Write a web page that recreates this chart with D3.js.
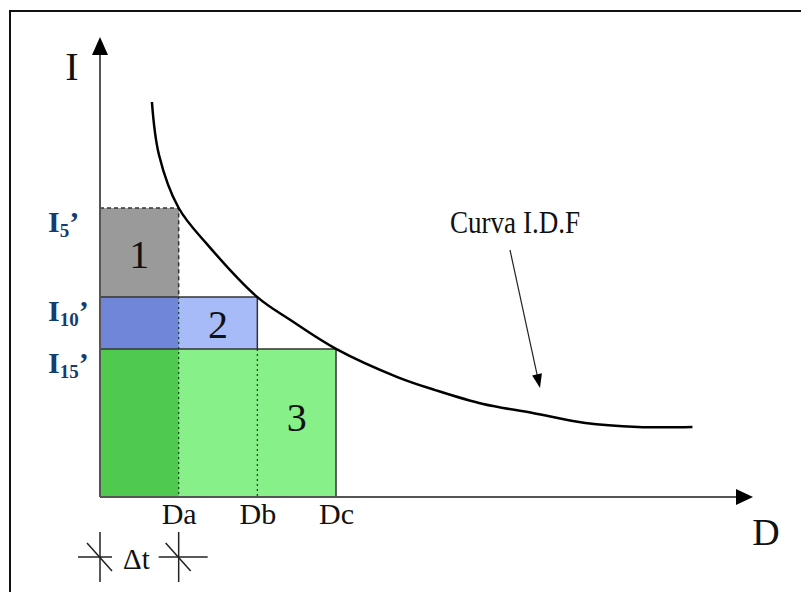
<!DOCTYPE html>
<html>
<head>
<meta charset="utf-8">
<script src="https://cdn.jsdelivr.net/npm/d3@7"></script>
<style>
  html, body { margin: 0; padding: 0; background: #fff; }
  svg { display: block; }
</style>
</head>
<body>
<div id="chart"></div>
<script>
// durations (in units of delta t) and their labels
const durationLabels = ["Da", "Db", "Dc"];
const durationValues = [1, 2, 3];

// intensities read at each duration (I5', I10', I15')
const intensityLabels = ["5", "10", "15"];
const intensityValues = [120, 83, 61.5];

// I.D.F curve points
const curveD = [0.66, 0.75, 1.0, 1.36, 2.0, 2.42, 3.0, 3.78, 4.26, 4.87, 5.5, 6.17, 6.84, 7.53];
const curveI = [164, 142, 120, 105, 83, 73.5, 61.5, 49.8, 44.4, 38.6, 34.9, 30.7, 29.1, 29.1];

const blockNumbers = ["1", "2", "3"];
const fillLight = ["#9a9a9a", "#a6bbf7", "#88f088"];
const fillDark = ["#9a9a9a", "#6f86d9", "#4fca4f"];

const W = 801, H = 592;
const serif = "'Liberation Serif', 'Times New Roman', serif";

const svg = d3.select("#chart").append("svg")
    .attr("width", W)
    .attr("height", H);

// frame (runs off the right and bottom edges)
svg.append("rect")
    .attr("x", 10).attr("y", 11)
    .attr("width", 900).attr("height", 700)
    .attr("fill", "#fff")
    .attr("stroke", "#111")
    .attr("stroke-width", 2);

const x = d3.scaleLinear().domain([0, 8.3]).range([100, 753]);
const y = d3.scaleLinear().domain([0, 191]).range([497, 37]);

// blocks, drawn largest intensity first so later ones cover the bottom
durationValues.forEach((dv, i) => {
    const g = svg.append("g");
    // light part
    g.append("rect")
        .attr("x", x(0))
        .attr("y", y(intensityValues[i]))
        .attr("width", x(dv) - x(0))
        .attr("height", y(0) - y(intensityValues[i]))
        .attr("fill", fillLight[i]);
    // darker part over the first interval
    g.append("rect")
        .attr("x", x(0))
        .attr("y", y(intensityValues[i]))
        .attr("width", x(durationValues[0]) - x(0))
        .attr("height", y(0) - y(intensityValues[i]))
        .attr("fill", fillDark[i]);
});

// block outlines
svg.append("path")
    .attr("d", `M${x(0)},${y(intensityValues[0])}H${x(durationValues[0])}V${y(intensityValues[1])}`)
    .attr("fill", "none")
    .attr("stroke", "#333")
    .attr("stroke-width", 1.5)
    .attr("stroke-dasharray", "4,3");

[1, 2].forEach(i => {
    svg.append("path")
        .attr("d", `M${x(0)},${y(intensityValues[i])}H${x(durationValues[i])}V${i === 2 ? y(0) : y(intensityValues[i + 1])}`)
        .attr("fill", "none")
        .attr("stroke", "#333")
        .attr("stroke-width", 1.5);
});

// dotted dividers inside the blocks
[0, 1].forEach(i => {
    svg.append("line")
        .attr("x1", x(durationValues[i])).attr("x2", x(durationValues[i]))
        .attr("y1", y(intensityValues[i + 1])).attr("y2", y(0))
        .attr("stroke", "#1d3a1d")
        .attr("stroke-width", 1.2)
        .attr("stroke-dasharray", "2,3");
});

// block numbers
blockNumbers.forEach((n, i) => {
    const x0 = i === 0 ? 0 : durationValues[i - 1];
    const top = y(intensityValues[i]);
    const bottom = i === 2 ? y(0) : y(intensityValues[i + 1]);
    svg.append("text")
        .attr("x", (x(x0) + x(durationValues[i])) / 2)
        .attr("y", (top + bottom) / 2 + (i === 2 ? 8 : 15))
        .attr("text-anchor", "middle")
        .style("font-family", serif)
        .style("font-size", "40px")
        .attr("fill", "#111")
        .text(n);
});

// I.D.F curve
const line = d3.line()
    .x(d => x(d[0]))
    .y(d => y(d[1]))
    .curve(d3.curveCatmullRom.alpha(0.5));

svg.append("path")
    .datum(curveD.map((d, i) => [d, curveI[i]]))
    .attr("d", line)
    .attr("fill", "none")
    .attr("stroke", "#000")
    .attr("stroke-width", 2.5);

// axes
const axisColor = "#555";
svg.append("line")
    .attr("x1", x(0)).attr("x2", x(0))
    .attr("y1", y(0)).attr("y2", y.range()[1] + 16)
    .attr("stroke", axisColor).attr("stroke-width", 2);
svg.append("path")
    .attr("d", `M${x(0)},${y.range()[1]}L${x(0) - 8},${y.range()[1] + 18}L${x(0) + 8},${y.range()[1] + 18}Z`)
    .attr("fill", "#000");

svg.append("line")
    .attr("x1", x(0)).attr("x2", x.range()[1] - 16)
    .attr("y1", y(0)).attr("y2", y(0))
    .attr("stroke", axisColor).attr("stroke-width", 2);
svg.append("path")
    .attr("d", `M${x.range()[1]},${y(0)}L${x.range()[1] - 17},${y(0) - 8}L${x.range()[1] - 17},${y(0) + 8}Z`)
    .attr("fill", "#000");

// duration tick labels
const xAxis = svg.append("g")
    .attr("transform", `translate(0,${y(0)})`)
    .call(d3.axisBottom(x)
        .tickValues(durationValues)
        .tickSize(0)
        .tickPadding(4)
        .tickFormat((d, i) => durationLabels[i]));
xAxis.select(".domain").remove();
xAxis.selectAll("text")
    .style("font-family", serif)
    .style("font-size", "30px")
    .attr("fill", "#111")
    .attr("dy", "0.75em");

// intensity labels
intensityLabels.forEach((lab, i) => {
    const t = svg.append("text")
        .attr("x", 48)
        .attr("y", y(intensityValues[i]) + 24)
        .style("font-family", serif)
        .style("font-weight", "bold")
        .style("font-size", "30px")
        .attr("fill", "#153d6f");
    t.append("tspan").text("I");
    t.append("tspan").attr("dy", 5).style("font-size", "19px").text(lab);
    t.append("tspan").attr("dy", -5).style("font-size", "30px").text("\u2019");
});

// axis names
svg.append("text")
    .attr("x", 72).attr("y", 80)
    .attr("text-anchor", "middle")
    .style("font-family", serif)
    .style("font-size", "40px")
    .attr("fill", "#111")
    .text("I");

svg.append("text")
    .attr("x", 766).attr("y", 545)
    .attr("text-anchor", "middle")
    .style("font-family", serif)
    .style("font-size", "38px")
    .attr("fill", "#111")
    .text("D");

// curve annotation
svg.append("text")
    .attr("x", 450).attr("y", 233)
    .attr("textLength", 130)
    .attr("lengthAdjust", "spacingAndGlyphs")
    .style("font-family", serif)
    .style("font-size", "32px")
    .attr("fill", "#111")
    .text("Curva I.D.F");

const ax0 = [510, 250], ax1 = [540, 388];
const ang = Math.atan2(ax1[1] - ax0[1], ax1[0] - ax0[0]);
svg.append("line")
    .attr("x1", ax0[0]).attr("y1", ax0[1])
    .attr("x2", ax1[0] - 12 * Math.cos(ang)).attr("y2", ax1[1] - 12 * Math.sin(ang))
    .attr("stroke", "#222").attr("stroke-width", 1.2);
svg.append("path")
    .attr("d", `M${ax1[0]},${ax1[1]}` +
        `L${ax1[0] - 14 * Math.cos(ang) + 5 * Math.sin(ang)},${ax1[1] - 14 * Math.sin(ang) - 5 * Math.cos(ang)}` +
        `L${ax1[0] - 14 * Math.cos(ang) - 5 * Math.sin(ang)},${ax1[1] - 14 * Math.sin(ang) + 5 * Math.cos(ang)}Z`)
    .attr("fill", "#000");

// delta t markers below the axis
const crossSpans = [[-22, 12], [-20, 29]];
[0, durationValues[0]].forEach((dv, i) => {
    const cx = x(dv), cy = 557;
    const g = svg.append("g").attr("stroke", "#222").attr("stroke-width", 1.5);
    g.append("line").attr("x1", cx).attr("x2", cx).attr("y1", cy - 25).attr("y2", cy + 25);
    g.append("line").attr("x1", cx + crossSpans[i][0]).attr("x2", cx + crossSpans[i][1]).attr("y1", cy).attr("y2", cy);
    g.append("line").attr("x1", cx - 13).attr("y1", cy - 14).attr("x2", cx + 12).attr("y2", cy + 14);
});

svg.append("text")
    .attr("x", 123).attr("y", 569)
    .style("font-family", serif)
    .style("font-size", "29px")
    .attr("fill", "#111")
    .text("\u0394t");
</script>
</body>
</html>
